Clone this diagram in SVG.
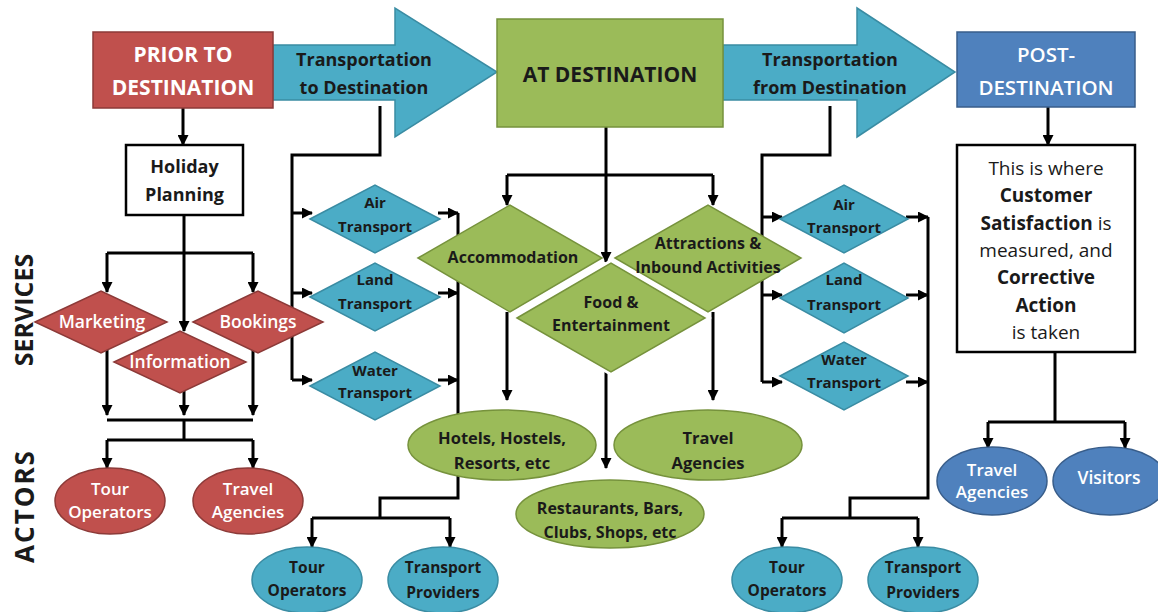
<svg xmlns="http://www.w3.org/2000/svg" width="1158" height="612" viewBox="0 0 1158 612">
<defs>
<marker id="ah" markerUnits="userSpaceOnUse" markerWidth="11" markerHeight="11" refX="10" refY="5.5" orient="auto">
<path d="M0,0 L11,5.5 L0,11 z" fill="#000"/>
</marker>
<style>
text{font-family:"Open Sans","Liberation Sans",sans-serif;text-anchor:middle;}
.b{font-weight:bold;fill:#1a1a1a;}
.w{fill:#fff;font-weight:600;}
.wb{fill:#fff;font-weight:bold;}
.red{fill:#c0504d;stroke:#8c3a38;stroke-width:1.5;}
.blu{fill:#4bacc6;stroke:#3a8ca3;stroke-width:1.5;}
.grn{fill:#9bbb59;stroke:#76923c;stroke-width:1.5;}
.pst{fill:#4f81bd;stroke:#385d8a;stroke-width:1.5;}
.box{fill:#fff;stroke:#000;stroke-width:2.5;}
.c path{fill:none;stroke:#000;stroke-width:3;}
.a{marker-end:url(#ah);}
</style>
</defs>
<rect width="1158" height="612" fill="#fff"/>

<g id="labels">
<text class="b" font-size="25" transform="translate(33,310) rotate(-90)">SERVICES</text>
<text class="b" font-size="26" letter-spacing="2" transform="translate(34,506) rotate(-90)">ACTORS</text>
</g>

<g id="connectors" class="c">
<path class="a" d="M183,108 V145"/>
<path class="a" d="M184,215 V331"/>
<path d="M107,253 H253"/>
<path class="a" d="M107,253 V292"/>
<path class="a" d="M253,253 V292"/>
<path class="a" d="M107,345 V415"/>
<path class="a" d="M184,390 V415"/>
<path class="a" d="M253,345 V415"/>
<path d="M107,420 H253 M184,420 V440 M107,440 H253"/>
<path class="a" d="M107,440 V468"/>
<path class="a" d="M253,440 V468"/>

<path d="M380,106 V155 H292 V380"/>
<path class="a" d="M292,213 H312"/>
<path class="a" d="M292,293 H312"/>
<path class="a" d="M292,380 H312"/>
<path class="a" d="M438,213 H458"/>
<path class="a" d="M438,293 H458"/>
<path class="a" d="M438,380 H458"/>
<path d="M458,213 V498 H380 V518 M312,518 H450"/>
<path class="a" d="M312,518 V547"/>
<path class="a" d="M450,518 V547"/>

<path class="a" d="M606,127 V262"/>
<path d="M507,175 H713"/>
<path class="a" d="M507,175 V205"/>
<path class="a" d="M713,175 V205"/>
<path class="a" d="M507,312 V400"/>
<path class="a" d="M713,312 V400"/>
<path class="a" d="M606,372 V468"/>

<path d="M830,106 V155 H762 V382"/>
<path class="a" d="M762,217 H782"/>
<path class="a" d="M762,295 H782"/>
<path class="a" d="M762,382 H782"/>
<path class="a" d="M906,217 H928"/>
<path class="a" d="M906,295 H928"/>
<path class="a" d="M906,382 H928"/>
<path d="M928,217 V498 H850 V518 M782,518 H918"/>
<path class="a" d="M782,518 V547"/>
<path class="a" d="M918,518 V547"/>

<path class="a" d="M1048,107 V145"/>
<path d="M1055,352 V422 M988,422 H1125"/>
<path class="a" d="M988,422 V448"/>
<path class="a" d="M1125,422 V448"/>
</g>

<g id="arrow-to">
<polygon class="blu" points="273,45 395,45 395,8 497,72 395,137 395,100 273,100"/>
<text class="b" font-size="18" x="364" y="66">Transportation</text>
<text class="b" font-size="18" x="364" y="94">to Destination</text>
</g>
<g id="arrow-from">
<polygon class="blu" points="723,45 857,45 857,8 955,72 857,137 857,100 723,100"/>
<text class="b" font-size="18" x="830" y="66">Transportation</text>
<text class="b" font-size="18" x="830" y="94">from Destination</text>
</g>

<g id="prior">
<rect class="red" x="93" y="32" width="180" height="76"/>
<text class="wb" font-size="21" x="183" y="62">PRIOR TO</text>
<text class="wb" font-size="21" x="183" y="95">DESTINATION</text>
</g>
<g id="at">
<rect class="grn" x="497" y="19" width="226" height="108"/>
<text class="b" font-size="21" x="610" y="82">AT DESTINATION</text>
</g>
<g id="post">
<rect class="pst" x="957" y="32" width="178" height="75"/>
<text class="w" font-size="20.5" x="1046" y="62">POST-</text>
<text class="w" font-size="20.5" x="1046" y="95">DESTINATION</text>
</g>

<g id="holiday">
<rect class="box" x="126" y="145" width="117" height="70"/>
<text class="b" font-size="18" x="184.5" y="173">Holiday</text>
<text class="b" font-size="18" x="184.5" y="201">Planning</text>
</g>

<g id="marketing">
<polygon class="red" points="35,322 101,291 167,322 101,353"/>
<text class="w" font-size="17.5" x="102" y="328">Marketing</text>
</g>
<g id="bookings">
<polygon class="red" points="193,322 258,291 323,322 258,353"/>
<text class="w" font-size="17.5" x="258" y="328">Bookings</text>
</g>
<g id="information">
<polygon class="red" points="114,362 180,331 246,362 180,393"/>
<text class="w" font-size="17.5" x="180" y="368">Information</text>
</g>

<g id="tour-red">
<ellipse class="red" cx="110" cy="501" rx="55" ry="33"/>
<text class="w" font-size="17" x="110" y="495">Tour</text>
<text class="w" font-size="17" x="110" y="518">Operators</text>
</g>
<g id="travel-red">
<ellipse class="red" cx="248" cy="501" rx="55" ry="33"/>
<text class="w" font-size="17" x="248" y="495">Travel</text>
<text class="w" font-size="17" x="248" y="518">Agencies</text>
</g>

<g id="air-l">
<polygon class="blu" points="310,219 375,185 440,219 375,253"/>
<text class="b" font-size="15" x="375" y="208">Air</text>
<text class="b" font-size="15" x="375" y="232">Transport</text>
</g>
<g id="land-l">
<polygon class="blu" points="310,297 375,263 440,297 375,331"/>
<text class="b" font-size="15" x="375" y="285">Land</text>
<text class="b" font-size="15" x="375" y="309">Transport</text>
</g>
<g id="water-l">
<polygon class="blu" points="310,386 375,352 440,386 375,420"/>
<text class="b" font-size="15" x="375" y="376">Water</text>
<text class="b" font-size="15" x="375" y="398">Transport</text>
</g>

<g id="air-r">
<polygon class="blu" points="780,219 844,185 908,219 844,253"/>
<text class="b" font-size="15" x="844" y="210">Air</text>
<text class="b" font-size="15" x="844" y="233">Transport</text>
</g>
<g id="land-r">
<polygon class="blu" points="780,298 844,263 908,298 844,333"/>
<text class="b" font-size="15" x="844" y="285">Land</text>
<text class="b" font-size="15" x="844" y="310">Transport</text>
</g>
<g id="water-r">
<polygon class="blu" points="780,376 844,342 908,376 844,410"/>
<text class="b" font-size="15" x="844" y="365">Water</text>
<text class="b" font-size="15" x="844" y="388">Transport</text>
</g>

<g id="accommodation">
<polygon class="grn" points="418,258 510,205 602,258 510,312"/>
<text class="b" font-size="16" x="513" y="263">Accommodation</text>
</g>
<g id="attractions">
<polygon class="grn" points="615,258 708,205 801,258 708,312"/>
<text class="b" font-size="16" x="708" y="249">Attractions &amp;</text>
<text class="b" font-size="16" x="708" y="273">Inbound Activities</text>
</g>
<g id="food">
<polygon points="517,318 611,263 705,318 611,372" fill="none" stroke="#fff" stroke-width="7"/>
<polygon class="grn" points="517,318 611,263 705,318 611,372"/>
<text class="b" font-size="16" x="611" y="308">Food &amp;</text>
<text class="b" font-size="16" x="611" y="331">Entertainment</text>
</g>

<g id="hotels">
<ellipse class="grn" cx="502" cy="445" rx="94" ry="35"/>
<text class="b" font-size="16.5" x="502" y="444">Hotels, Hostels,</text>
<text class="b" font-size="16.5" x="502" y="469">Resorts, etc</text>
</g>
<g id="travel-g">
<ellipse class="grn" cx="708" cy="445" rx="94" ry="35"/>
<text class="b" font-size="16.5" x="708" y="444">Travel</text>
<text class="b" font-size="16.5" x="708" y="469">Agencies</text>
</g>
<g id="restaurants">
<ellipse class="grn" cx="610" cy="514" rx="94" ry="34"/>
<text class="b" font-size="16" x="610" y="514">Restaurants, Bars,</text>
<text class="b" font-size="16" x="610" y="538">Clubs, Shops, etc</text>
</g>

<g id="tour-l">
<ellipse class="blu" cx="307" cy="580" rx="55" ry="33"/>
<text class="b" font-size="15.5" x="307" y="573">Tour</text>
<text class="b" font-size="15.5" x="307" y="596">Operators</text>
</g>
<g id="providers-l">
<ellipse class="blu" cx="443" cy="580" rx="55" ry="33"/>
<text class="b" font-size="15.5" x="443" y="573">Transport</text>
<text class="b" font-size="15.5" x="443" y="598">Providers</text>
</g>
<g id="tour-r">
<ellipse class="blu" cx="787" cy="580" rx="55" ry="33"/>
<text class="b" font-size="15.5" x="787" y="573">Tour</text>
<text class="b" font-size="15.5" x="787" y="596">Operators</text>
</g>
<g id="providers-r">
<ellipse class="blu" cx="923" cy="580" rx="55" ry="33"/>
<text class="b" font-size="15.5" x="923" y="573">Transport</text>
<text class="b" font-size="15.5" x="923" y="598">Providers</text>
</g>

<g id="satisfaction">
<rect class="box" x="957" y="145" width="178" height="207"/>
<text font-size="19" fill="#1a1a1a" x="1046" y="175">This is where</text>
<text class="b" font-size="19" x="1046" y="202">Customer</text>
<text font-size="19" fill="#1a1a1a" x="1046" y="230"><tspan font-weight="bold">Satisfaction</tspan> is</text>
<text font-size="19" fill="#1a1a1a" x="1046" y="257">measured, and</text>
<text class="b" font-size="19" x="1046" y="284">Corrective</text>
<text class="b" font-size="19" x="1046" y="312">Action</text>
<text font-size="19" fill="#1a1a1a" x="1046" y="339">is taken</text>
</g>

<g id="travel-p">
<ellipse class="pst" cx="992" cy="481" rx="55" ry="34"/>
<text class="w" font-size="17" x="992" y="476">Travel</text>
<text class="w" font-size="17" x="992" y="498">Agencies</text>
</g>
<g id="visitors">
<ellipse class="pst" cx="1110" cy="481" rx="57" ry="34"/>
<text class="w" font-size="17.5" x="1109" y="484">Visitors</text>
</g>
</svg>
